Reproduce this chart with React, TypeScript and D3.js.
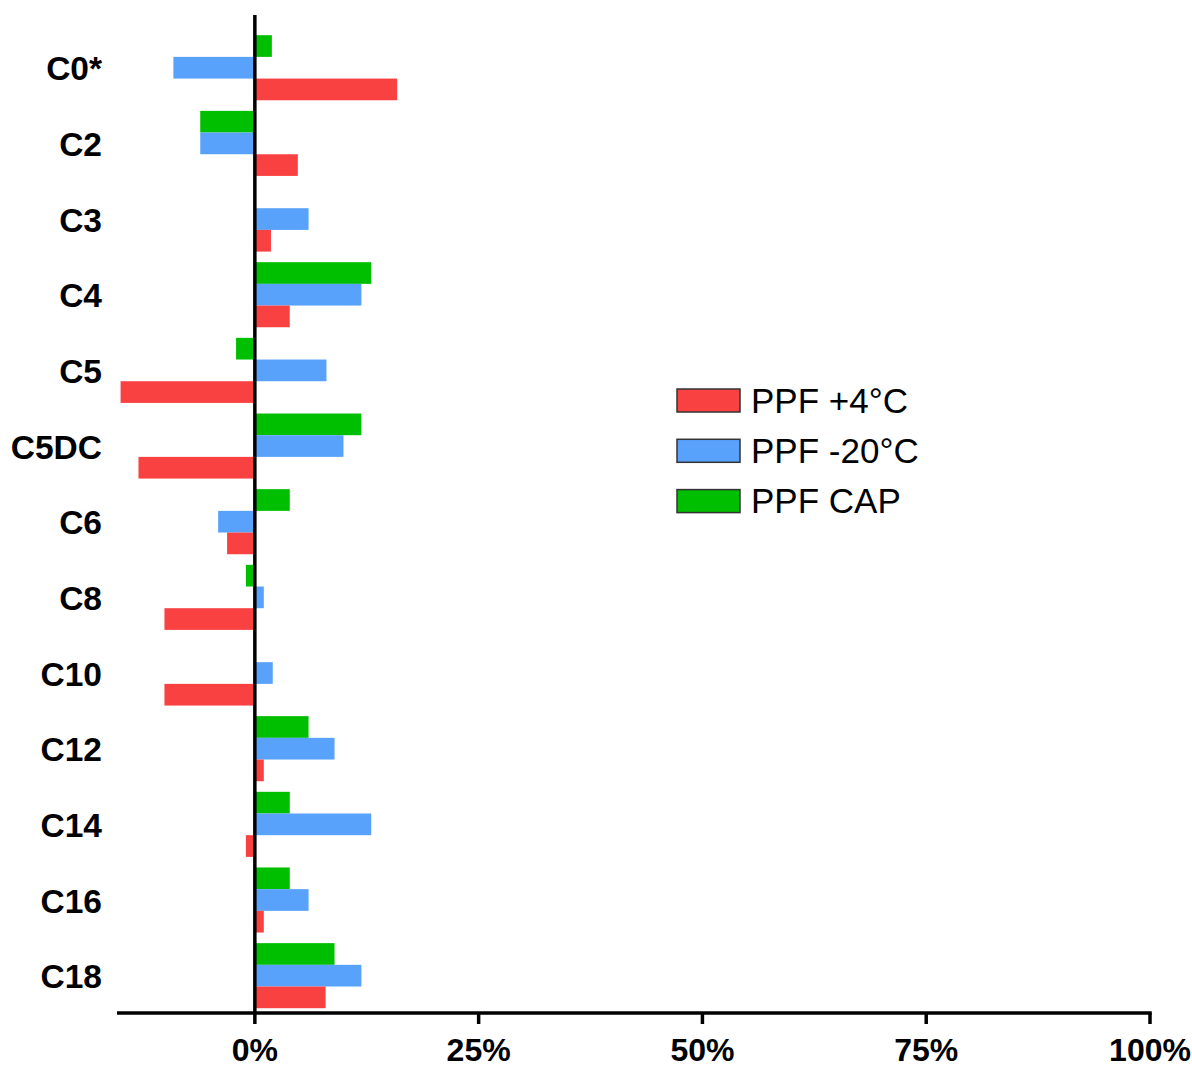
import React from "react";
import * as d3 from "d3";

const categories = ["C0*", "C2", "C3", "C4", "C5", "C5DC", "C6", "C8", "C10", "C12", "C14", "C16", "C18"];
const seriesNames = ["PPF +4°C", "PPF -20°C", "PPF CAP"];
const seriesColors = ["#FA4142", "#58A2FC", "#00BF00"];
const ppf4 = [15.9, 4.8, 1.8, 3.9, -15.0, -13.0, -3.1, -10.1, -10.1, 1.0, -1.0, 1.0, 7.9];
const ppf20 = [-9.1, -6.1, 6.0, 11.9, 8.0, 9.9, -4.1, 1.0, 2.0, 8.9, 13.0, 6.0, 11.9];
const ppfCap = [1.9, -6.1, 0, 13.0, -2.1, 11.9, 3.9, -1.0, 0, 6.0, 3.9, 3.9, 8.9];
const xTicks = [0, 25, 50, 75, 100];

// draw order within group: top to bottom = CAP, -20, +4
const stackOrder = [2, 1, 0];
const seriesValues = [ppf4, ppf20, ppfCap];

export default function App() {
  const W = 1192, H = 1066;
  const x = d3.scaleLinear().domain([-15.4, 100]).range([117, 1150]);
  const y = d3.scaleBand<string>().domain(categories).range([29.9, 1013.5]).paddingInner(0.14).paddingOuter(0.07);
  const inner = d3.scaleBand<number>().domain(stackOrder).range([0, y.bandwidth()]).padding(0);
  const axisY = 1013;
  const font = "Arial, 'Liberation Sans', sans-serif";

  return (
    <svg width={W} height={H} style={{ position: "absolute", left: 0, top: 0, background: "#fff" }}>
      <rect x={0} y={0} width={W} height={H} fill="#fff" />
      {categories.map((c, i) => (
        <g key={c}>
          {stackOrder.map((s) => {
            const v = seriesValues[s][i];
            if (v === 0) return null;
            const x0 = x(Math.min(0, v));
            const x1 = x(Math.max(0, v));
            return (
              <rect key={s} x={x0} y={(y(c) as number) + (inner(s) as number)} width={x1 - x0}
                height={inner.bandwidth()} fill={seriesColors[s]} />
            );
          })}
          <text x={102} y={(y(c) as number) + y.bandwidth() / 2 + 1} textAnchor="end" dominantBaseline="central"
            fontFamily={font} fontWeight="bold" fontSize={33.5} fill="#000">{c}</text>
        </g>
      ))}
      {/* zero line */}
      <line x1={x(0)} x2={x(0)} y1={15} y2={axisY} stroke="#000" strokeWidth={3.5} />
      {/* x axis */}
      <line x1={x.range()[0]} x2={x.range()[1] + 1.75} y1={axisY} y2={axisY} stroke="#000" strokeWidth={3.5} />
      {xTicks.map((t) => (
        <g key={t}>
          <line x1={x(t)} x2={x(t)} y1={axisY} y2={axisY + 11} stroke="#000" strokeWidth={3.5} />
          <text x={x(t)} y={1060.5} textAnchor="middle" fontFamily={font} fontWeight="bold" fontSize={32} fill="#000">{t}%</text>
        </g>
      ))}
      {/* legend */}
      {[0, 1, 2].map((s) => (
        <g key={s} transform={`translate(677, ${389 + s * 50.3})`}>
          <rect x={0} y={0} width={63} height={23} fill={seriesColors[s]} stroke="#333" strokeWidth={1.5} />
          <text x={74} y={23.5} fontFamily={font} fontSize={35} fill="#000">{seriesNames[s]}</text>
        </g>
      ))}
    </svg>
  );
}
